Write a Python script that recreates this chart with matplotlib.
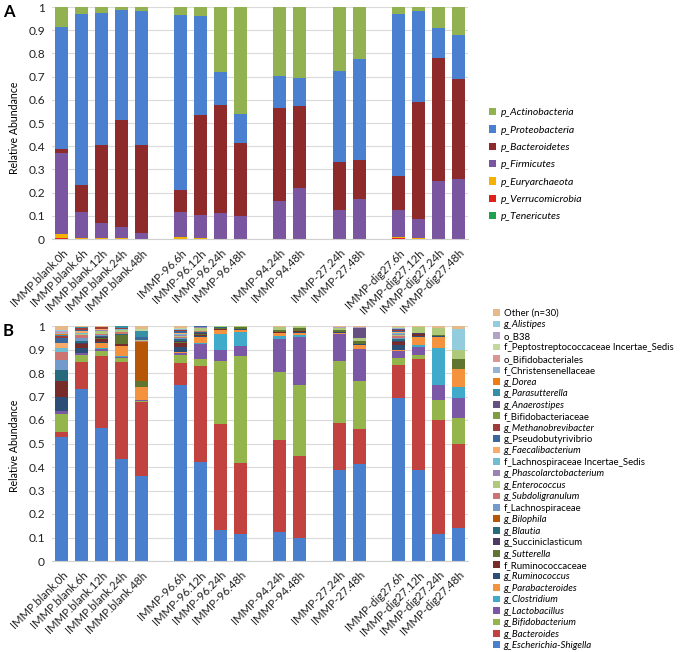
import numpy as np
import matplotlib
matplotlib.use("Agg")
import matplotlib.pyplot as plt
from matplotlib.patches import Patch

plt.rcParams['font.family'] = ['Lato', 'DejaVu Sans']

samples = ["IMMP.blank.0h", "IMMP.blank.6h", "IMMP.blank.12h", "IMMP.blank.24h", "IMMP.blank.48h",
           "IMMP-96.6h", "IMMP-96.12h", "IMMP-96.24h", "IMMP-96.48h",
           "IMMP-94.24h", "IMMP-94.48h",
           "IMMP-27.24h", "IMMP-27.48h",
           "IMMP-dig27.6h", "IMMP-dig27.12h", "IMMP-dig27.24h", "IMMP-dig27.48h"]
groups = ["blank"] * 5 + ["96"] * 4 + ["94"] * 2 + ["27"] * 2 + ["dig27"] * 4

# ---------------- Panel A : phyla (bottom -> top) ----------------
phyla = ["p_Tenericutes", "p_Verrucomicrobia", "p_Euryarchaeota", "p_Firmicutes",
         "p_Bacteroidetes", "p_Proteobacteria", "p_Actinobacteria"]
tenericutes = [0] * 17
verrucomicrobia = [0.005, 0, 0, 0, 0, 0, 0, 0, 0, 0, 0, 0, 0, 0.003, 0, 0, 0]
euryarchaeota = [0.017, 0.005, 0.003, 0.003, 0.001, 0.007, 0.003, 0, 0, 0, 0, 0, 0, 0.005, 0.003, 0, 0]
firmicutes = [0.348, 0.110, 0.065, 0.049, 0.025, 0.111, 0.101, 0.114, 0.100,
              0.163, 0.219, 0.125, 0.173, 0.119, 0.082, 0.250, 0.258]
bacteroidetes = [0.019, 0.118, 0.336, 0.459, 0.381, 0.095, 0.431, 0.463, 0.313,
                 0.400, 0.355, 0.206, 0.167, 0.146, 0.506, 0.531, 0.430]
proteobacteria = [0.525, 0.738, 0.572, 0.475, 0.576, 0.752, 0.428, 0.144, 0.127,
                  0.141, 0.118, 0.394, 0.436, 0.698, 0.390, 0.128, 0.193]
actinobacteria = [0.086, 0.029, 0.024, 0.014, 0.017, 0.035, 0.037, 0.279, 0.460,
                  0.296, 0.308, 0.275, 0.224, 0.029, 0.019, 0.091, 0.119]
phyla_values = [tenericutes, verrucomicrobia, euryarchaeota, firmicutes,
                bacteroidetes, proteobacteria, actinobacteria]
phyla_colors = ["#1FA150", "#E0201B", "#F5B000", "#7B56A0", "#8E2A2A", "#4A80CF", "#92B251"]

# ---------------- Panel B : genera (bottom -> top) ----------------
g_escherichia = [0.527, 0.732, 0.564, 0.436, 0.361, 0.750, 0.420, 0.131, 0.113, 0.124, 0.100, 0.386, 0.412, 0.695, 0.386, 0.114, 0.142]
g_bacteroides = [0.020, 0.115, 0.308, 0.410, 0.316, 0.093, 0.408, 0.450, 0.305, 0.390, 0.346, 0.203, 0.148, 0.140, 0.475, 0.486, 0.355]
g_bifidobacterium = [0.078, 0.028, 0.020, 0.018, 0.004, 0.032, 0.032, 0.272, 0.456, 0.291, 0.303, 0.262, 0.207, 0.029, 0.014, 0.084, 0.112]
g_lactobacillus = [0.012, 0.008, 0.010, 0.005, 0.004, 0.010, 0.065, 0.045, 0.043, 0.141, 0.203, 0.117, 0.134, 0.028, 0.036, 0.066, 0.085]
g_clostridium = [0, 0.002, 0.004, 0.002, 0.002, 0.002, 0.003, 0.066, 0.056, 0.011, 0.010, 0, 0, 0.002, 0.007, 0.156, 0.046]
g_parabacteroides = [0, 0.002, 0.022, 0.042, 0.055, 0.003, 0.025, 0.018, 0.012, 0.012, 0.010, 0.003, 0.020, 0.004, 0.035, 0.047, 0.078]
g_ruminococcus = [0.061, 0.018, 0.005, 0.004, 0, 0.020, 0.006, 0.002, 0.002, 0.002, 0.003, 0.002, 0.002, 0.022, 0.006, 0.003, 0]
f_ruminococcaceae = [0.067, 0.018, 0.012, 0.008, 0, 0.019, 0.004, 0.002, 0.002, 0.002, 0.003, 0.002, 0.002, 0.011, 0.006, 0, 0]
g_sutterella = [0, 0.002, 0.005, 0.035, 0.026, 0.003, 0.004, 0.005, 0.006, 0.010, 0.012, 0.010, 0.012, 0.003, 0.003, 0.004, 0.043]
g_succiniclasticum = [0, 0.002, 0.003, 0.002, 0, 0.003, 0.004, 0.002, 0, 0.001, 0, 0, 0, 0.003, 0.002, 0, 0]
g_blautia = [0.049, 0.010, 0.004, 0.003, 0, 0.008, 0.003, 0.001, 0, 0, 0, 0, 0, 0.008, 0, 0, 0]
g_bilophila = [0, 0, 0, 0, 0.164, 0, 0, 0, 0, 0, 0, 0, 0, 0, 0, 0, 0]
f_lachnospiraceae = [0.040, 0.012, 0.006, 0.002, 0, 0.006, 0.002, 0, 0, 0, 0, 0, 0, 0.006, 0, 0, 0]
g_subdoligranulum = [0.034, 0.012, 0.005, 0.006, 0.005, 0.006, 0.002, 0, 0, 0, 0, 0, 0, 0.006, 0, 0, 0]
g_enterococcus = [0, 0.004, 0.012, 0.010, 0.004, 0.004, 0.015, 0.005, 0.003, 0.013, 0.008, 0.006, 0.010, 0.003, 0.026, 0.030, 0.036]
g_phascolarctobacterium = [0, 0.003, 0.002, 0.001, 0, 0.004, 0.002, 0, 0, 0, 0, 0, 0, 0.004, 0, 0, 0]
f_lachno_incertae = [0.019, 0.004, 0.003, 0.002, 0, 0.003, 0.001, 0, 0, 0, 0, 0, 0, 0.006, 0, 0, 0]
g_faecalibacterium = [0.021, 0.005, 0.002, 0.002, 0, 0.004, 0.001, 0, 0, 0, 0, 0, 0, 0.004, 0, 0, 0]
g_pseudobutyrivibrio = [0.020, 0.004, 0.002, 0.001, 0.013, 0.008, 0.001, 0, 0, 0, 0, 0, 0, 0.003, 0, 0, 0]
g_methanobrevibacter = [0.008, 0.012, 0.006, 0.002, 0, 0.004, 0.001, 0, 0, 0, 0, 0, 0, 0.005, 0, 0, 0]
f_bifidobacteriaceae = [0, 0, 0, 0, 0, 0, 0, 0, 0, 0, 0, 0, 0, 0.002, 0, 0, 0]
g_anaerostipes = [0, 0, 0, 0, 0, 0, 0, 0, 0, 0, 0, 0, 0.043, 0.002, 0, 0, 0]
g_parasutterella = [0.005, 0.001, 0, 0.008, 0.023, 0.002, 0, 0, 0, 0, 0, 0, 0, 0.002, 0, 0, 0]
g_dorea = [0.005, 0.001, 0, 0, 0, 0.001, 0, 0, 0, 0, 0, 0, 0, 0.001, 0, 0, 0]
f_christensenellaceae = [0.004, 0, 0, 0, 0, 0.002, 0, 0, 0, 0, 0, 0, 0, 0.002, 0, 0, 0]
o_bifidobacteriales = [0.003, 0, 0, 0, 0, 0.002, 0, 0, 0, 0, 0, 0, 0, 0.002, 0, 0, 0]
f_peptostrepto = [0.003, 0, 0, 0, 0.012, 0.002, 0, 0, 0, 0, 0, 0, 0, 0.001, 0, 0, 0]
o_b38 = [0.002, 0, 0, 0, 0, 0.001, 0, 0, 0, 0, 0, 0.006, 0.007, 0.001, 0, 0, 0]
g_alistipes = [0.003, 0, 0, 0, 0, 0.001, 0, 0, 0, 0, 0, 0, 0, 0.001, 0, 0, 0.089]
other = [0.019, 0.005, 0.005, 0.002, 0.011, 0.007, 0.002, 0.001, 0.002, 0.003, 0.002, 0.003, 0.003, 0.004, 0.004, 0.010, 0.014]

genera = ["g_Escherichia-Shigella", "g_Bacteroides", "g_Bifidobacterium", "g_Lactobacillus",
          "g_Clostridium", "g_Parabacteroides", "g_Ruminococcus", "f_Ruminococcaceae",
          "g_Sutterella", "g_Succiniclasticum", "g_Blautia", "g_Bilophila",
          "f_Lachnospiraceae", "g_Subdoligranulum", "g_Enterococcus", "g_Phascolarctobacterium",
          "f_Lachnospiraceae Incertae_Sedis", "g_Faecalibacterium", "g_Pseudobutyrivibrio",
          "g_Methanobrevibacter", "f_Bifidobacteriaceae", "g_Anaerostipes", "g_Parasutterella",
          "g_Dorea", "f_Christensenellaceae", "o_Bifidobacteriales",
          "f_Peptostreptococcaceae Incertae_Sedis", "o_B38", "g_Alistipes", "Other (n=30)"]
genera_values = [g_escherichia, g_bacteroides, g_bifidobacterium, g_lactobacillus,
                 g_clostridium, g_parabacteroides, g_ruminococcus, f_ruminococcaceae,
                 g_sutterella, g_succiniclasticum, g_blautia, g_bilophila,
                 f_lachnospiraceae, g_subdoligranulum, g_enterococcus, g_phascolarctobacterium,
                 f_lachno_incertae, g_faecalibacterium, g_pseudobutyrivibrio,
                 g_methanobrevibacter, f_bifidobacteriaceae, g_anaerostipes, g_parasutterella,
                 g_dorea, f_christensenellaceae, o_bifidobacteriales,
                 f_peptostrepto, o_b38, g_alistipes, other]
genera_italic = [True, True, True, True, True, True, True, False, True, False, True, True,
                 False, True, True, True, False, True, False, True, False, True, True,
                 True, False, False, False, False, True, False]
genera_colors = ["#4A7FCE", "#C2423F", "#93B54C", "#7B58A6", "#3FAAC9", "#F5923E",
                 "#2C4D75", "#772C2A", "#5F7530", "#4D3B62", "#276A7C", "#B65708",
                 "#729ACA", "#CD7371", "#AFC97A", "#9983B5", "#6FBDD1", "#F9AB6B",
                 "#3A679C", "#9F3B38", "#7E9C40", "#664F83", "#358FA7", "#F07A13",
                 "#95B3D7", "#D99694", "#C3D69B", "#B3A2C7", "#93CDDD", "#E6B98A"]

# x positions: one empty slot between sample groups
order = []
for g in groups:
    if g not in order:
        order.append(g)
x = np.array([i + order.index(g) for i, g in enumerate(groups)], dtype=float)

fig = plt.figure(figsize=(6.8, 6.52), dpi=100)
axA = fig.add_axes([52 / 680, 1 - 239 / 652, 416 / 680, 232 / 652])
axB = fig.add_axes([52 / 680, 1 - 561 / 652, 416 / 680, 235 / 652])

def style(ax):
    ax.set_xlim(-0.5, x[-1] + 0.5)
    ax.set_ylim(0, 1)
    ax.set_yticks(np.arange(0, 1.01, 0.1))
    ax.set_yticklabels(["0"] + ["%.1f" % v for v in np.arange(0.1, 0.95, 0.1)] + ["1"])
    ax.yaxis.grid(True, color="#DADADA", linewidth=0.8)
    ax.set_axisbelow(True)
    for s in ["top", "right", "left"]:
        ax.spines[s].set_visible(False)
    ax.spines["bottom"].set_color("#D0D0D0")
    ax.tick_params(length=0, colors="#222222")
    ax.tick_params(axis="y", pad=5, labelsize=8.6)
    ax.set_xticks(x)
    ax.set_xticklabels(samples, rotation=45, ha="right", rotation_mode="anchor", fontsize=8.2)
    ax.tick_params(axis="x", pad=6)

width = 0.66
bottom = np.zeros(len(samples))
handlesA = []
for name, vals, col in zip(phyla, phyla_values, phyla_colors):
    axA.bar(x, vals, width, bottom=bottom, color=col, label=name, linewidth=0)
    bottom += np.array(vals)
    handlesA.append(Patch(facecolor=col, label=name))
style(axA)

bottom = np.zeros(len(samples))
handlesB = []
for name, vals, col in zip(genera, genera_values, genera_colors):
    axB.bar(x, vals, width, bottom=bottom, color=col, label=name, linewidth=0)
    bottom += np.array(vals)
    handlesB.append(Patch(facecolor=col, label=name))
style(axB)

fig.text(15 / 680, 1 - 128 / 652, "Relative Abundance", rotation=90, ha="center", va="center", fontsize=7.6)
fig.text(15 / 680, 1 - 446 / 652, "Relative Abundance", rotation=90, ha="center", va="center", fontsize=7.6)
fig.text(3 / 680, 1 - 12 / 652, "A", fontsize=12, fontweight="bold", va="center", ha="left")
fig.text(3 / 680, 1 - 331 / 652, "B", fontsize=12, fontweight="bold", va="center", ha="left")

legA = fig.legend(handles=handlesA[::-1], loc="upper left", bbox_to_anchor=(489 / 680, 1 - 108 / 652),
                  frameon=False, fontsize=7.5, handlelength=0.7, handleheight=0.7,
                  handletextpad=0.4, labelspacing=0.774, borderaxespad=0, borderpad=0)
for t in legA.get_texts():
    t.set_style("italic")

legB = fig.legend(handles=handlesB[::-1], loc="upper left", bbox_to_anchor=(493 / 680, 1 - 309 / 652),
                  frameon=False, fontsize=6.9, handlelength=0.7, handleheight=0.7,
                  handletextpad=0.4, labelspacing=0.256, borderaxespad=0, borderpad=0)
for t, it in zip(legB.get_texts(), genera_italic[::-1]):
    if it:
        t.set_style("italic")

fig.savefig("out.png", dpi=100)
